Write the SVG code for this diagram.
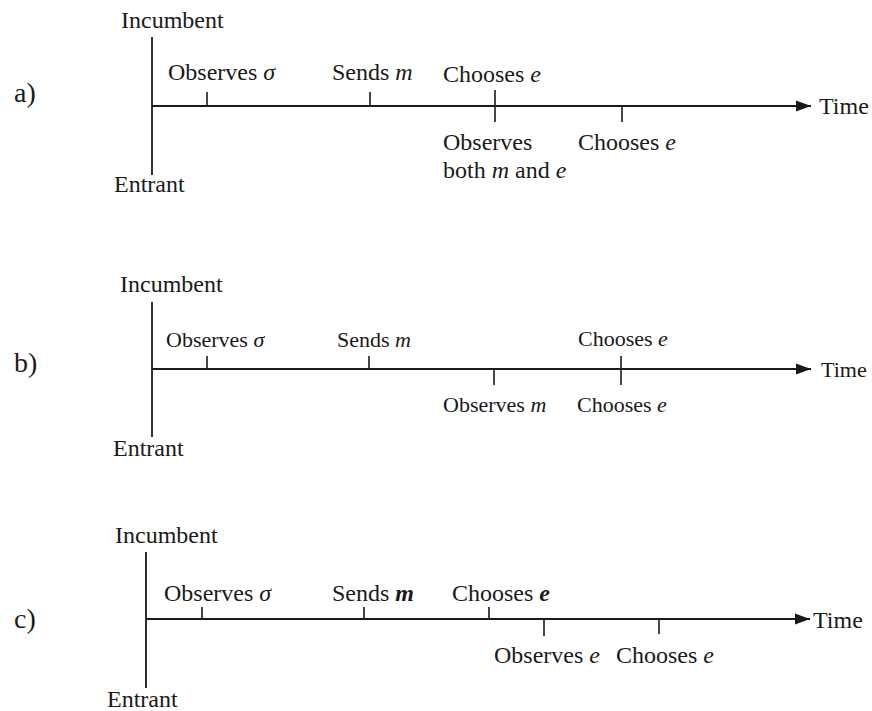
<svg xmlns="http://www.w3.org/2000/svg" width="872" height="711" viewBox="0 0 872 711">
<defs>
<marker id="arr" markerWidth="16" markerHeight="12" refX="15" refY="6" orient="auto" markerUnits="userSpaceOnUse">
<path d="M0,0.5 L15,6 L0,11.5 Z" fill="#1a1a1a"/>
</marker>
<style>
text{font-family:"Liberation Serif","Times New Roman",serif;fill:#1a1a1a;font-size:24px}
.s22{font-size:22px}
.lbl{font-size:28px}
.i{font-style:italic}
.axis{stroke:#1a1a1a;stroke-width:2;fill:none}
.vl{stroke:#1a1a1a;stroke-width:1.8;fill:none}
.tk{stroke:#1a1a1a;stroke-width:1.6;fill:none}
</style>
</defs>
<rect width="872" height="711" fill="#ffffff"/>

<g id="connectors">
<!-- panel a -->
<line class="vl" x1="152" y1="37" x2="152" y2="175"/>
<line class="axis" x1="152" y1="106" x2="811" y2="106" marker-end="url(#arr)"/>
<line class="tk" x1="207" y1="92" x2="207" y2="106"/>
<line class="tk" x1="370" y1="92" x2="370" y2="106"/>
<line class="tk" x1="495" y1="90" x2="495" y2="122"/>
<line class="tk" x1="622" y1="106" x2="622" y2="122"/>
<!-- panel b -->
<line class="vl" x1="152" y1="302" x2="152" y2="437"/>
<line class="axis" x1="152" y1="369" x2="811" y2="369" marker-end="url(#arr)"/>
<line class="tk" x1="207" y1="356" x2="207" y2="369"/>
<line class="tk" x1="369" y1="356" x2="369" y2="369"/>
<line class="tk" x1="494" y1="369" x2="494" y2="385"/>
<line class="tk" x1="621" y1="356" x2="621" y2="385"/>
<!-- panel c -->
<line class="vl" x1="146" y1="552" x2="146" y2="688"/>
<line class="axis" x1="146" y1="619" x2="810" y2="619" marker-end="url(#arr)"/>
<line class="tk" x1="202" y1="607" x2="202" y2="619"/>
<line class="tk" x1="364" y1="607" x2="364" y2="619"/>
<line class="tk" x1="489" y1="607" x2="489" y2="619"/>
<line class="tk" x1="544" y1="619" x2="544" y2="636"/>
<line class="tk" x1="659" y1="619" x2="659" y2="634"/>
</g>

<g id="panel-a">
<text class="lbl" x="14" y="102">a)</text>
<text x="121" y="28">Incumbent</text>
<text x="114" y="192">Entrant</text>
<text x="168" y="80">Observes <tspan class="i">σ</tspan></text>
<text x="332" y="80">Sends <tspan class="i">m</tspan></text>
<text x="443" y="82">Chooses <tspan class="i">e</tspan></text>
<text x="443" y="150">Observes</text>
<text x="443" y="178">both <tspan class="i">m</tspan> and <tspan class="i">e</tspan></text>
<text x="578" y="150">Chooses <tspan class="i">e</tspan></text>
<text x="819" y="114">Time</text>
</g>

<g id="panel-b">
<text class="lbl" x="14" y="372">b)</text>
<text x="120" y="292">Incumbent</text>
<text x="113" y="456">Entrant</text>
<text class="s22" x="166" y="347">Observes <tspan class="i">σ</tspan></text>
<text class="s22" x="337" y="347">Sends <tspan class="i">m</tspan></text>
<text class="s22" x="578" y="346">Chooses <tspan class="i">e</tspan></text>
<text class="s22" x="443" y="412">Observes <tspan class="i">m</tspan></text>
<text class="s22" x="577" y="412">Chooses <tspan class="i">e</tspan></text>
<text class="s22" x="821" y="377">Time</text>
</g>

<g id="panel-c">
<text class="lbl" x="14" y="628">c)</text>
<text x="115" y="543">Incumbent</text>
<text x="107" y="707">Entrant</text>
<text x="164" y="601">Observes <tspan class="i">σ</tspan></text>
<text x="332" y="601">Sends <tspan class="i" font-weight="bold">m</tspan></text>
<text x="452" y="601">Chooses <tspan class="i" font-weight="bold">e</tspan></text>
<text x="494" y="663">Observes <tspan class="i">e</tspan></text>
<text x="616" y="663">Chooses <tspan class="i">e</tspan></text>
<text x="813" y="628">Time</text>
</g>
</svg>
